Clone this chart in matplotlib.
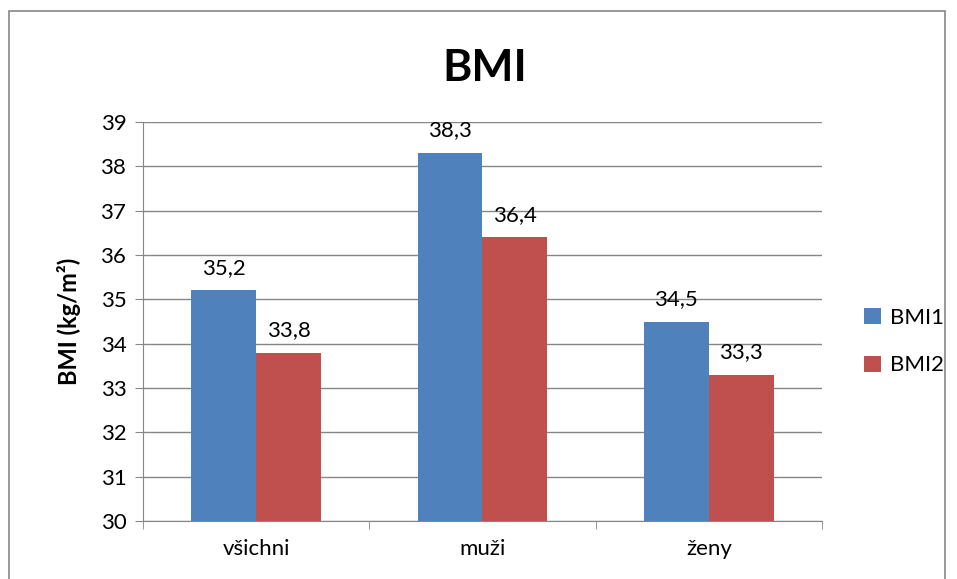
import matplotlib

matplotlib.use("Agg")
import matplotlib.pyplot as plt
from matplotlib.patches import Rectangle
import numpy as np

categories = ["všichni", "muži", "ženy"]
bmi1 = [35.2, 38.3, 34.5]
bmi2 = [33.8, 36.4, 33.3]
series_names = ["BMI1", "BMI2"]
yticks = [30, 31, 32, 33, 34, 35, 36, 37, 38, 39]

BLUE = "#4F81BD"
RED = "#C0504D"
GRID = "#868686"

plt.rcParams["font.family"] = ["Lato", "DejaVu Sans"]

fig = plt.figure(figsize=(9.57, 5.79), dpi=100)
ax = fig.add_axes([0.1494, 0.1002, 0.7095, 0.689])

x = np.arange(len(categories))
w = 0.287
b1 = ax.bar(x - w / 2, bmi1, w, color=BLUE, label=series_names[0], zorder=3)
b2 = ax.bar(x + w / 2, bmi2, w, color=RED, label=series_names[1], zorder=3)

for bars, vals in ((b1, bmi1), (b2, bmi2)):
    for bar, v in zip(bars, vals):
        ax.annotate(f"{v:.1f}".replace(".", ","),
                    (bar.get_x() + bar.get_width() / 2, v),
                    xytext=(0, 9), textcoords="offset points",
                    ha="center", va="bottom", fontsize=16)

ax.set_ylim(30, 39)
ax.set_xlim(-0.5, 2.5)
ax.set_yticks(yticks)
ax.set_yticklabels([str(t) for t in yticks], fontsize=16)
ax.set_xticks(x)
ax.set_xticklabels(categories, fontsize=16)
ax.tick_params(axis="x", which="major", length=0, pad=13)
ax.set_xticks([-0.5, 0.5, 1.5, 2.5], minor=True)
ax.tick_params(axis="x", which="minor", length=6, color=GRID, direction="out")
ax.tick_params(axis="y", length=6, color=GRID, direction="out", pad=6)
ax.grid(axis="y", color=GRID, linewidth=1, zorder=0)
for side in ("top", "right"):
    ax.spines[side].set_visible(False)
for side in ("left", "bottom"):
    ax.spines[side].set_color(GRID)

ax.set_ylabel("BMI (kg/m²)", fontsize=17, fontweight="bold", labelpad=14)
fig.text(0.507, 0.882, "BMI", ha="center", va="center", fontsize=32, fontweight="bold")

leg = fig.legend(handles=[b1, b2], loc="center left", bbox_to_anchor=(0.903, 0.41),
                 frameon=False, fontsize=16, handlelength=0.75, handleheight=0.75,
                 handletextpad=0.4, labelspacing=1.25, borderaxespad=0, borderpad=0)

fig.patches.append(Rectangle((9 / 957, -0.05), 936 / 957, 1.05 - 11 / 579,
                             transform=fig.transFigure, fill=False,
                             edgecolor="#868686", linewidth=1.2))

fig.savefig("out.png", dpi=100)
